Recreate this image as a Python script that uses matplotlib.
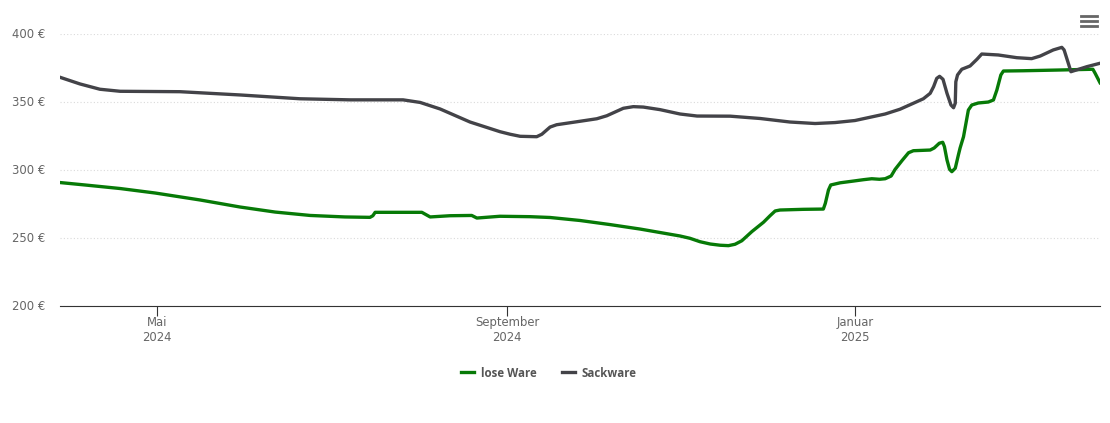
import numpy as np
import pandas as pd
import matplotlib
matplotlib.use('Agg')
import matplotlib.pyplot as plt
from matplotlib.lines import Line2D
from matplotlib.transforms import ScaledTranslation

plt.rcParams['font.family'] = ['DejaVu Sans']

# Tage seit Beginn des Zeitraums, Preise in Euro
start = pd.Timestamp('2024-03-28')
ende = pd.Timestamp('2025-03-28')

tage_lose = [0, 8.8, 21.1, 33.4, 49.1, 63.2, 75.5, 87.8, 100, 108.8, 109.8, 110.6, 127, 129.9,
             136.9, 144.5, 146.3, 154.4, 165, 172, 182.5, 193, 203.6, 217.6, 221.1, 224.6,
             228.2, 231.7, 234.6, 236.9, 239.3, 242.8, 246.9, 249.2, 251, 252.7, 260.8, 267.9,
             268.6, 269.7, 270.5, 273.8, 278.5, 282, 284.9, 287.6, 289.6, 291.7, 293.1, 295.5,
             297.8, 299.5, 305.4, 306.8, 308.6, 309.8, 310.4, 311.3, 312.2, 313, 314.2, 315.3,
             315.9, 317.1, 318.8, 320, 322.3, 325.8, 327.6, 328.8, 330.2, 331.1, 338, 349.8,
             362.5, 363.3, 365]
preis_lose = [291, 289.2, 286.6, 283.3, 278.2, 273, 269.3, 266.8, 265.7, 265.4, 266.6, 269.1, 269.1, 265.7,
              266.6, 266.8, 264.9, 266.2, 265.9, 265.3, 263.1, 260.1, 256.8, 251.7, 250, 247.5,
              245.8, 244.9, 244.6, 245.6, 248.2, 254.9, 261.8, 266.6, 270.1, 270.8, 271.3, 271.5,
              275.7, 285.5, 289.2, 290.8, 292.1, 293.1, 293.8, 293.4, 293.8, 295.8, 300.7, 307.1,
              312.9, 314.4, 314.9, 316.4, 319.9, 320.6, 317.4, 307.6, 300.7, 299, 301.5, 311.3,
              316.4, 324.7, 344.3, 348, 349.5, 350.2, 351.7, 359, 370.1, 373, 373.2, 373.7,
              374.3, 371.3, 364.4]

tage_sack = [0, 7, 14, 21.1, 42.1, 63.2, 84.2, 101.8, 120.4, 126.4, 133.4, 143.9, 154.4, 158, 161.5,
             167.3, 169.1, 172, 174.3, 181.4, 188.4, 191.9, 197.7, 201.2, 204.7, 210.6, 217.6,
             223.6, 235.2, 245.7, 256.2, 265, 272, 279, 289.6, 294.8, 299.5, 303, 305.4, 306.6,
             307.7, 308.7, 309.9, 311.3, 312.7, 313.6, 314.2, 314.4, 315, 316.5, 319.4, 321.8,
             323.5, 329.3, 335.8, 341, 344, 348.6, 351.6, 352.4, 353.7, 354.8, 360.4, 365]
preis_sack = [368.4, 363.5, 359.6, 358.1, 357.8, 355.4, 352.6, 351.8, 351.8, 349.9, 345.1, 335.5, 328.4, 326.5, 325,
              324.7, 326.5, 331.8, 333.5, 335.7, 337.9, 340.1, 345.6, 346.8, 346.5, 344.6, 341.4,
              339.9, 339.8, 338.1, 335.5, 334.4, 335.1, 336.6, 341.4, 344.9, 349.3, 352.6, 356.6, 361.5,
              367.6, 369.1, 366.9, 356.6, 348, 346, 349.3, 365.1, 370.1, 374.3, 376.7, 381.6,
              385.5, 384.8, 382.8, 382.1, 384, 388.5, 390.4, 388.5, 379.9, 372.5, 376.2, 378.7]

y_ticks = [200, 250, 300, 350, 400]
x_ticks = ['2024-05-01', '2024-09-01', '2025-01-01']
x_labels = ['Mai\n2024', 'September\n2024', 'Januar\n2025']

GRUEN = '#077a07'
GRAU = '#434348'
TEXT = '#666666'

W, H = 1110, 423
fig = plt.figure(figsize=(W / 100, H / 100), dpi=100)
ax = fig.add_axes([60 / W, (H - 306.3) / H, 1040 / W, 272 / H])


def datum(tage):
    return start + pd.to_timedelta(tage, unit='D')


ax.plot(datum(tage_lose), preis_lose, color=GRUEN, lw=2.4, solid_joinstyle='round', label='lose Ware')
ax.plot(datum(tage_sack), preis_sack, color=GRAU, lw=2.4, solid_joinstyle='round', label='Sackware')

ax.set_xlim(start, ende)
ax.set_ylim(200, 400)
for s in ['top', 'left', 'right']:
    ax.spines[s].set_visible(False)
ax.spines['bottom'].set_color('#333333')
ax.spines['bottom'].set_linewidth(0.8)

ax.set_yticks(y_ticks)
ax.set_yticklabels([f'{v} €' for v in y_ticks], color=TEXT, fontsize=8.4)
ax.tick_params(axis='y', length=0, pad=10.5)
hoch = ScaledTranslation(0, 1 / 100, fig.dpi_scale_trans)
for lab in ax.get_yticklabels():
    lab.set_transform(lab.get_transform() + hoch)
ax.yaxis.grid(True, color='#dadada', lw=0.8, ls=(0, (1, 2)))
ax.set_axisbelow(True)

ax.set_xticks(pd.to_datetime(x_ticks))
ax.set_xticklabels(x_labels, color=TEXT, fontsize=8.4, linespacing=1.2)
ax.tick_params(axis='x', length=7.5, width=0.8, color='#333333', pad=-0.2)

leg = fig.legend(*ax.get_legend_handles_labels(), loc='center', bbox_to_anchor=(549 / W, 1 - 373 / H),
                 ncol=2, frameon=False, prop={'family': 'Open Sans', 'size': 8.3, 'weight': 'bold'},
                 labelcolor='#555555', handlelength=1.15, handletextpad=0.6, columnspacing=2.15)

# Menue-Symbol oben rechts
for y_px in [15.7, 21, 26.3]:
    fig.add_artist(Line2D([1081 / W, 1097 / W], [1 - y_px / H] * 2, color='#666666', lw=2.0))

fig.savefig('out.png', dpi=100)
